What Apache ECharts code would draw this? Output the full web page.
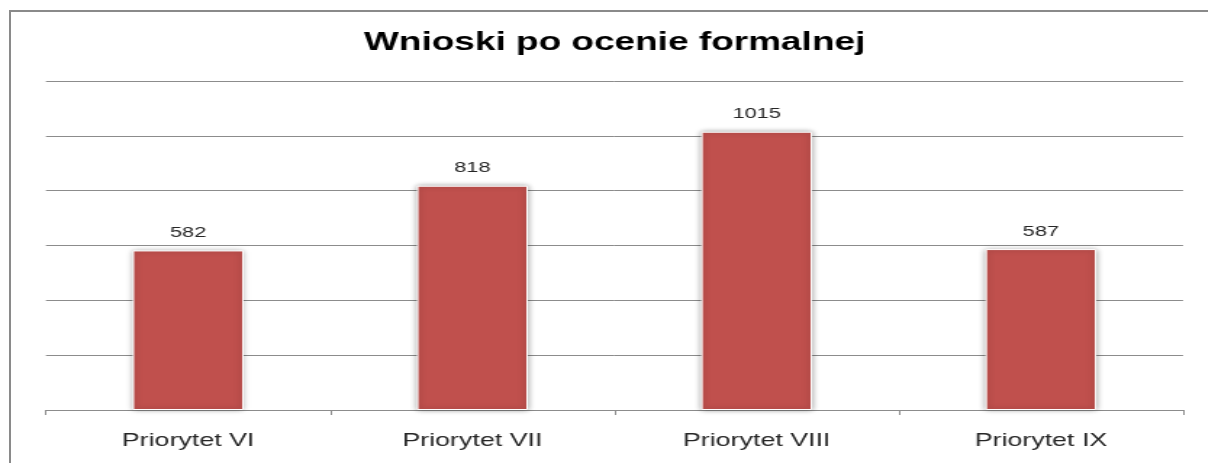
<!DOCTYPE html>
<html>
<head>
<meta charset="utf-8">
<script src="https://cdn.jsdelivr.net/npm/echarts@6/dist/echarts.min.js"></script>
<style>
  html, body { margin: 0; padding: 0; background: #ffffff; overflow: hidden; }
  #wrap { position: relative; width: 1208px; height: 463px; overflow: hidden; background: #fff; }
  #frame { position: absolute; left: 9px; top: 10px; width: 1400px; height: 700px; border: 2px solid #8a8a8a; box-sizing: border-box; }
  #chart { position: absolute; left: 0; top: 0; width: 833px; height: 463px; transform: scaleX(1.45); transform-origin: 0 0; }
</style>
</head>
<body>
<div id="wrap">
  <div id="frame"></div>
  <div id="chart"></div>
</div>
<script>
const titleText = 'Wnioski po ocenie formalnej';
const categories = ['Priorytet VI', 'Priorytet VII', 'Priorytet VIII', 'Priorytet IX'];
const values = [582, 818, 1015, 587];
const yMin = 0, yMax = 1200, yInterval = 200;

const chart = echarts.init(document.getElementById('chart'), null, { renderer: 'canvas' });
chart.setOption({
  animation: false,
  backgroundColor: 'transparent',
  title: {
    text: titleText,
    left: 251,
    top: 30,
    padding: 0,
    textStyle: { fontFamily: 'Liberation Sans, Arial, sans-serif', fontWeight: 'bold', fontSize: 25.5, color: '#000000' }
  },
  grid: { left: 31.7, right: 17.1, top: 81, bottom: 53, containLabel: false },
  xAxis: {
    type: 'category',
    data: categories,
    boundaryGap: true,
    axisLine: { lineStyle: { color: '#8c8c8c', width: 1 } },
    axisTick: { show: true, length: 5, lineStyle: { color: '#8c8c8c' } },
    axisLabel: { margin: 21, fontFamily: 'Liberation Sans, Arial, sans-serif', fontSize: 18.5, color: '#262626' }
  },
  yAxis: {
    type: 'value',
    min: yMin, max: yMax, interval: yInterval,
    axisLine: { show: false },
    axisTick: { show: false },
    axisLabel: { show: false },
    splitLine: { lineStyle: { color: '#8c8c8c', width: 1 } }
  },
  series: [{
    type: 'bar',
    data: values,
    barWidth: '39%',
    itemStyle: {
      color: '#C0504D',
      borderColor: '#ffffff',
      borderWidth: 1,
      shadowBlur: 5,
      shadowColor: 'rgba(0,0,0,0.35)',
      shadowOffsetX: 0,
      shadowOffsetY: 0
    },
    label: {
      show: true,
      position: 'top',
      distance: 10,
      fontFamily: 'Liberation Sans, Arial, sans-serif',
      fontSize: 15,
      color: '#262626'
    }
  }]
});
</script>
</body>
</html>
